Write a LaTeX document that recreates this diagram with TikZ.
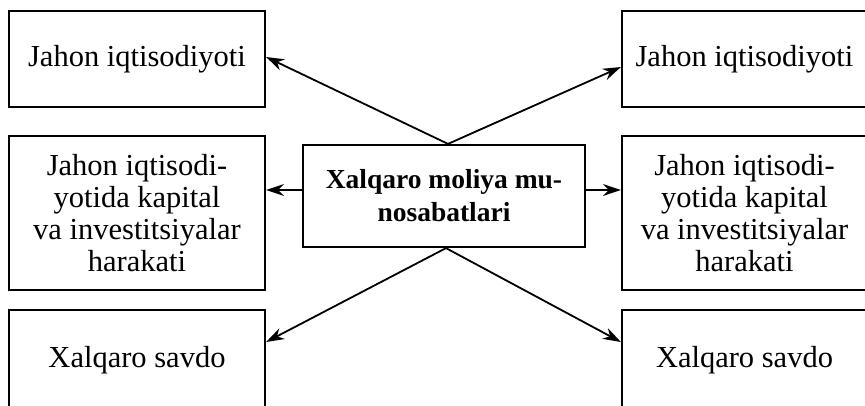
\documentclass[tikz,border=0pt]{standalone}
\usepackage{fontspec}
\setmainfont{Liberation Serif}
\usetikzlibrary{arrows.meta}
\tikzset{
  boxnode/.style={draw, line width=2.2pt, inner sep=0pt, align=center,
    font=\fontsize{30.5}{32}\selectfont},
  conn/.style={line width=1.8pt, -{Stealth[length=18pt,width=12pt]}}
}
\begin{document}
\begin{tikzpicture}[x=1pt,y=-1pt]
\useasboundingbox (0,0) rectangle (865,405);
\node[boxnode, minimum width=256pt, minimum height=96pt] (tl) at (137,59) {Jahon iqtisodiyoti};
\node[boxnode, minimum width=245pt, minimum height=96pt] (tr) at (744.5,59) {Jahon iqtisodiyoti};
\node[boxnode, minimum width=256pt, minimum height=154pt] (ml) at (137,213) {Jahon iqtisodi-\\yotida kapital\\va investitsiyalar\\harakati};
\node[boxnode, minimum width=245pt, minimum height=154pt] (mr) at (744.5,213) {Jahon iqtisodi-\\yotida kapital\\va investitsiyalar\\harakati};
\node[boxnode, minimum width=282pt, minimum height=102pt, font=\fontsize{27.5}{33}\selectfont\bfseries] (mc) at (444,196) {Xalqaro moliya mu-\\nosabatlari};
\node[boxnode, minimum width=256pt, minimum height=100pt] (bl) at (137,360) {Xalqaro savdo};
\node[boxnode, minimum width=245pt, minimum height=100pt] (br) at (744.5,360) {Xalqaro savdo};
\draw[conn] ([xshift=4pt]mc.north) -- ([yshift=2pt]tl.east);
\draw[conn] ([xshift=4pt]mc.north) -- ([yshift=-8pt]tr.west);
\draw[conn] ([xshift=2pt]mc.south) -- ([yshift=18pt]bl.east);
\draw[conn] ([xshift=2pt]mc.south) -- ([yshift=18pt]br.west);
\draw[conn] ([yshift=6pt]mc.west) -- ([yshift=23pt]ml.east);
\draw[conn] ([yshift=6pt]mc.east) -- ([yshift=23pt]mr.west);
\end{tikzpicture}
\end{document}
